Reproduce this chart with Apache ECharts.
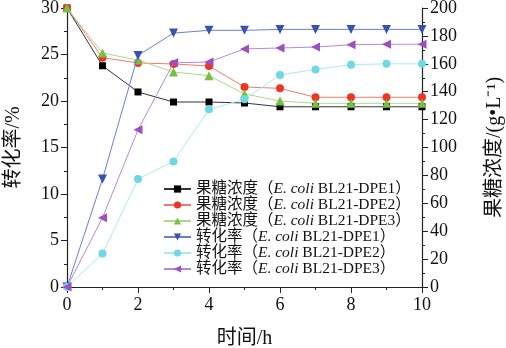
<!DOCTYPE html>
<html><head><meta charset="utf-8">
<script src="https://cdn.jsdelivr.net/npm/echarts@6/dist/echarts.min.js"></script>
<style>html,body{margin:0;padding:0;background:#fff}#c{width:506px;height:348px}</style>
</head><body><div id="c"></div>
<script>
const hours = [0,1,2,3,4,5,6,7,8,9,10];
const fru1 = [200,158.6,139.8,132.6,132.6,131.9,129.2,129.2,129.2,129.2,129.2];
const fru2 = [200,164.4,160.6,159.9,158.4,143.4,142.4,136,136,136,136];
const fru3 = [200,167.7,162.7,154.1,151.5,138.4,133.3,131.7,131.7,131.7,131.7];
const conv1 = [0,11.6,24.9,27.3,27.6,27.6,27.7,27.7,27.7,27.7,27.7];
const conv2 = [0,3.6,11.6,13.5,19.1,20.2,22.8,23.4,23.9,24.0,24.0];
const conv3 = [0,7.45,16.9,24.1,24.2,25.6,25.7,25.8,26.05,26.1,26.1];
const leftTicks = [0,5,10,15,20,25,30];
const rightTicks = [0,20,40,60,80,100,120,140,160,180,200];
const xTicks = [0,2,4,6,8,10];

const SERIF = '"Liberation Serif","Noto Sans CJK SC",serif';
const pair = a => a.map((v,i)=>[hours[i],v]);
const names = [
  '果糖浓度（E. coli BL21-DPE1）','果糖浓度（E. coli BL21-DPE2）','果糖浓度（E. coli BL21-DPE3）',
  '转化率（E. coli BL21-DPE1）','转化率（E. coli BL21-DPE2）','转化率（E. coli BL21-DPE3）'];
function mk(name, data, yi, color, lineColor, symbol, rot, size){
  return {name, type:'line', data:pair(data), yAxisIndex:yi, symbol, symbolRotate:rot, symbolSize:size,
    itemStyle:{color}, lineStyle:{color:lineColor, width:1}, z: yi===0?3:2};
}
const chart = echarts.init(document.getElementById('c'), null, {renderer:'canvas'});
const axisCommon = {
  axisLine:{show:true, lineStyle:{color:'#222', width:1.2}},
  axisTick:{show:true, inside:false, length:6, lineStyle:{color:'#222'}},
  minorTick:{show:true, splitNumber:2, length:3, lineStyle:{color:'#222'}},
  splitLine:{show:false},
  axisLabel:{color:'#111', fontSize:18, fontFamily:SERIF},
  nameTextStyle:{color:'#111', fontSize:20, fontFamily:SERIF}
};
chart.setOption({
  animation:false,
  backgroundColor:'#fff',
  grid:{left:67, right:84, top:8, bottom:61, containLabel:false, outerBoundsMode:'none'},
  legend:{
    orient:'vertical', left:158, top:176, itemWidth:27, itemHeight:9, itemGap:0,
    data:names,
    formatter: n => { const m = n.match(/^(.*)（E\. coli (.*)）$/); return m[1]+'（{i|E. coli} '+m[2]+'）'; },
    textStyle:{fontSize:15.5, lineHeight:16, fontFamily:SERIF, color:'#111',
      rich:{i:{fontStyle:'italic', fontSize:15.5, lineHeight:16, fontFamily:SERIF, color:'#111'}}}
  },
  xAxis:Object.assign({}, axisCommon, {type:'value', min:0, max:10, interval:2,
    name:'时间/h', nameLocation:'middle', nameGap:42,
    axisLabel:Object.assign({}, axisCommon.axisLabel, {margin:9, customValues:xTicks}),
    axisTick:Object.assign({}, axisCommon.axisTick, {customValues:xTicks}),
  }),
  yAxis:[
    Object.assign({}, axisCommon, {type:'value', min:0, max:30, interval:5, position:'left',
      name:'转化率/%', nameLocation:'middle', nameGap:43, nameRotate:90}),
    Object.assign({}, axisCommon, {type:'value', min:0, max:200, interval:20, position:'right',
      name:'果糖浓度/(g•L⁻¹)', nameLocation:'middle', nameGap:63, nameRotate:90,
      axisLabel:Object.assign({}, axisCommon.axisLabel, {margin:8})})
  ],
  series:[
    mk(names[0], fru1, 1, '#000000', '#333333', 'rect', 0, 7),
    mk(names[1], fru2, 1, '#ee3524', '#f07a6a', 'circle', 0, 8),
    mk(names[2], fru3, 1, '#78c043', '#a8da8a', 'triangle', 0, 9),
    mk(names[3], conv1, 0, '#3753b0', '#6b7fd0', 'triangle', 180, 9),
    mk(names[4], conv2, 0, '#6fd8e6', '#a8eaf2', 'circle', 0, 8),
    mk(names[5], conv3, 0, '#9b4fc0', '#b888d6', 'triangle', 90, 9)
  ]
});
</script></body></html>
